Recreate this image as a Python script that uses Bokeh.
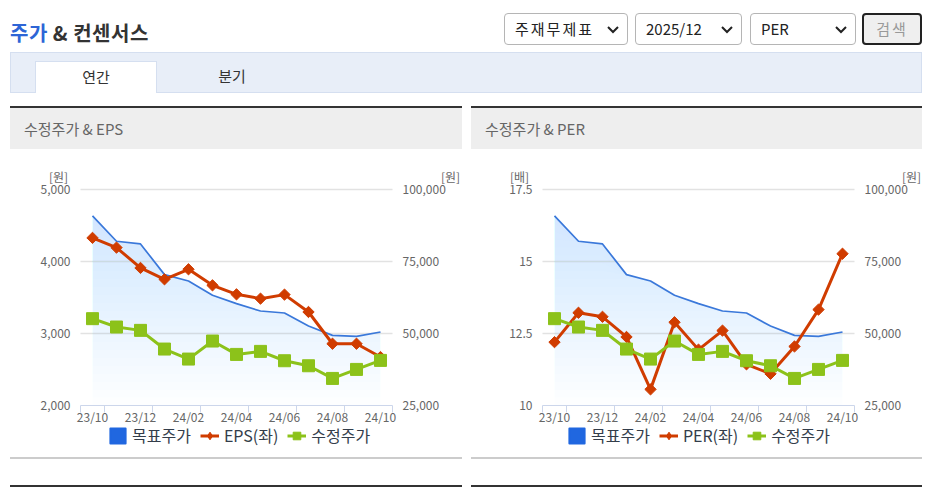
import numpy as np
from bokeh.plotting import figure
from bokeh.models import (Range1d, LinearAxis, FixedTicker, NumeralTickFormatter,
                          Legend, LegendItem, Label, Div)
from bokeh.layouts import column, row
from bokeh.embed import file_html
from bokeh.resources import INLINE

# ---------------- data ----------------
months = ["23/10", "23/11", "23/12", "24/01", "24/02", "24/03", "24/04",
          "24/05", "24/06", "24/07", "24/08", "24/09", "24/10"]
eps = [4328, 4193, 3911, 3753, 3892, 3669, 3544, 3484, 3540, 3299, 2858, 2858, 2673]
per = [12.20, 13.22, 13.08, 12.38, 10.56, 12.89, 11.94, 12.60, 11.43, 11.10, 12.05, 13.33, 15.27]
adj_price = [55150, 52250, 51090, 44600, 41120, 47380, 42740, 43790, 40540, 38800, 34400, 37530, 40660]
target_price = [90840, 82030, 81110, 70440, 68240, 63260, 60360, 57810, 57110, 52600, 49350, 49000, 50510]

eps_ticks = [2000, 3000, 4000, 5000]
per_ticks = [10, 12.5, 15, 17.5]
price_ticks = [25000, 50000, 75000, 100000]

FONT = "Noto Sans CJK KR"
BLUE = "#3a78da"
BLUE_SW = "#2067e0"
RED = "#d03c00"
GREEN = "#8cc21a"
AXIS_C = "#ccd6eb"
LABEL_C = "#666666"

FIG_H = 300.0          # figure height in px
PX_PER_CAT = 24.0      # horizontal pixels per category
PLOT_H = 216.0         # pixels between lowest and highest tick
TOP_PAD = 39.0         # px above the top tick inside the frame
BOT_PAD = FIG_H - PLOT_H - TOP_PAD   # px below the bottom tick (axis labels + legend)


def make_chart(width, pad_l, metric, metric_name, left_ticks, left_fmt,
               left_unit, unit_dx_l, unit_dx_r, legend_x):
    n = len(months)
    idx = list(range(n))
    lo, hi = -0.5, n - 0.5
    pad_r = width - pad_l - n * PX_PER_CAT
    x_range = Range1d(lo - pad_l / PX_PER_CAT, hi + pad_r / PX_PER_CAT)
    lspan = left_ticks[-1] - left_ticks[0]
    pspan = price_ticks[-1] - price_ticks[0]
    y_range = Range1d(left_ticks[0] - BOT_PAD * lspan / PLOT_H,
                      left_ticks[-1] + TOP_PAD * lspan / PLOT_H)
    p_range = Range1d(price_ticks[0] - BOT_PAD * pspan / PLOT_H,
                      price_ticks[-1] + TOP_PAD * pspan / PLOT_H)

    p = figure(width=width, height=int(FIG_H), x_range=x_range, y_range=y_range,
               output_backend="svg", toolbar_location=None, title=None,
               min_border=0, min_border_left=0, min_border_right=0,
               min_border_top=0, min_border_bottom=0,
               outline_line_color=None, background_fill_color="white",
               border_fill_color="white")
    p.extra_y_ranges = {"price": p_range}

    # x axis pinned at the bottom tick value
    xa = p.xaxis[0]
    xa.fixed_location = left_ticks[0]
    xa.bounds = (lo, hi)
    xa.ticker = FixedTicker(ticks=idx[::2],
                            minor_ticks=[lo] + [i - 0.5 for i in idx[1::2]] + [hi])
    xa.major_label_overrides = {i: months[i] for i in idx[::2]}
    xa.major_tick_line_color = None
    xa.major_tick_out = 0
    xa.major_tick_in = 0
    xa.minor_tick_out = 7
    xa.minor_tick_in = 0
    xa.minor_tick_line_color = AXIS_C
    xa.axis_line_color = AXIS_C
    xa.major_label_standoff = -5
    xa.major_label_text_font = FONT
    xa.major_label_text_font_size = "12px"
    xa.major_label_text_color = LABEL_C

    # left axis pinned at the left edge of the category band
    ya = p.yaxis[0]
    ya.fixed_location = lo
    ya.bounds = (left_ticks[0], left_ticks[-1])
    ya.ticker = FixedTicker(ticks=left_ticks)
    ya.formatter = NumeralTickFormatter(format=left_fmt)
    ya.axis_line_color = None
    ya.major_tick_line_color = None
    ya.minor_tick_line_color = None
    ya.major_tick_out = 0
    ya.major_label_standoff = 10
    ya.major_label_text_font = FONT
    ya.major_label_text_font_size = "12px"
    ya.major_label_text_color = LABEL_C

    # right axis pinned at the right edge of the category band
    ra = LinearAxis(y_range_name="price", ticker=FixedTicker(ticks=price_ticks),
                    formatter=NumeralTickFormatter(format="0,0"), fixed_location=hi,
                    bounds=(price_ticks[0], price_ticks[-1]))
    ra.axis_line_color = None
    ra.major_tick_line_color = None
    ra.minor_tick_line_color = None
    ra.major_tick_out = 0
    ra.major_label_standoff = 10
    ra.major_label_text_font = FONT
    ra.major_label_text_font_size = "12px"
    ra.major_label_text_color = LABEL_C
    p.add_layout(ra, "right")

    p.xgrid.visible = False
    p.ygrid.visible = False
    gl = left_ticks[1:]
    p.segment(x0=[lo] * len(gl), x1=[hi] * len(gl), y0=gl, y1=gl,
              line_color="#e2e2e2", line_width=1.5)

    # gradient-like area under target price
    tp = np.array(target_price, dtype=float)
    levels = np.linspace(price_ticks[0], tp.max(), 24, endpoint=False)
    for L in levels:
        p.varea(x=idx, y1=np.minimum(tp, L), y2=tp, fill_color="#c0dcf8",
                fill_alpha=0.027, y_range_name="price")
    p.line(idx, target_price, line_color=BLUE, line_width=1.7, y_range_name="price")

    red_line = p.line(idx, metric, line_color=RED, line_width=3)
    p.scatter(idx, metric, marker="square", angle=np.pi / 4, size=8,
              fill_color=RED, line_color=RED)
    green_line = p.line(idx, adj_price, line_color=GREEN, line_width=3, y_range_name="price")
    green_pts = p.scatter(idx, adj_price, marker="square", size=12,
                          fill_color=GREEN, line_color=GREEN, y_range_name="price")

    # legend-only renderers (a single NaN row: nothing is drawn in the plot)
    nan = [float("nan")]
    sw = p.quad(left=nan, right=nan, top=nan, bottom=nan, fill_color=BLUE_SW,
                line_color=BLUE_SW, line_join="round", line_width=2)
    red_dummy = p.scatter(x=nan, y=nan, marker="diamond", size=10, fill_color=RED, line_color=RED)
    green_dummy = p.scatter(x=nan, y=nan, marker="square", size=10, fill_color=GREEN,
                            line_color=GREEN)

    legend = Legend(items=[LegendItem(label="목표주가", renderers=[sw]),
                           LegendItem(label=metric_name, renderers=[red_line, red_dummy]),
                           LegendItem(label="수정주가", renderers=[green_line, green_dummy])],
                    orientation="horizontal", location=(legend_x, 3),
                    glyph_width=19, glyph_height=19, label_standoff=5, spacing=9,
                    padding=0, margin=0, border_line_color=None,
                    background_fill_alpha=0,
                    label_text_font=FONT, label_text_font_size="16px",
                    label_text_color="#333d4a")
    p.add_layout(legend)

    for txt, xx, dx in ((left_unit, lo, unit_dx_l), ("[원]", hi, unit_dx_r)):
        p.add_layout(Label(x=xx, y=left_ticks[-1], x_offset=dx, y_offset=13, text=txt,
                           text_align="center", text_baseline="middle",
                           text_font=FONT, text_font_size="12px", text_color=LABEL_C))
    return p


# left chart: figure page x 0..471, categories at page x 80..392
p1 = make_chart(471, 80, eps, "EPS(좌)", eps_ticks, "0,0", "[원]", -22, 58, 108)
# right chart: figure page x 471..922, categories at page x 542..854
p2 = make_chart(451, 71, per, "PER(좌)", per_ticks, "0.[0]", "[배]", -23, 57, 96)

chev = ('<svg width="12" height="8" style="position:absolute;right:8px;top:12px">'
        '<polyline points="1,1 6,6 11,1" fill="none" stroke="#222" stroke-width="2"/></svg>')


def sel(left, w, txt, ls):
    return (f'<div style="position:absolute;left:{left}px;top:13px;width:{w}px;height:32px;'
            f'box-sizing:border-box;border:1px solid #b5b5b5;border-radius:4px;background:#fff;'
            f'font-size:15px;line-height:30px;padding-left:10px;color:#222;'
            f'letter-spacing:{ls}px;">{txt}{chev}</div>')


top_html = f'''
<div style="position:relative;width:922px;height:150px;font-family:'{FONT}';overflow:hidden;">
  <div style="position:absolute;left:10px;top:22px;height:22px;line-height:22px;font-size:20px;
       font-weight:bold;color:#333;letter-spacing:0.5px;">
    <span style="color:#2d65d6;">주가</span> &amp; 컨센서스</div>
  {sel(504, 124, "주재무제표", 2)}
  {sel(635, 107, "2025/12", 0)}
  {sel(750, 106, "PER", 0)}
  <div style="position:absolute;left:862px;top:13px;width:60px;height:32px;box-sizing:border-box;
       border:2px solid #222;border-radius:4px;background:#efefef;text-align:center;
       font-size:15px;line-height:28px;color:#999;letter-spacing:2px;">검색</div>
  <div style="position:absolute;left:10px;top:52px;width:912px;height:41px;box-sizing:border-box;
       background:#e8eef8;border:1px solid #d5dff0;"></div>
  <div style="position:absolute;left:35px;top:61px;width:122px;height:32px;box-sizing:border-box;
       background:#fff;border:1px solid #d5dff0;border-bottom:none;text-align:center;
       font-size:15px;line-height:30px;color:#333;">연간</div>
  <div style="position:absolute;left:171px;top:61px;width:122px;height:32px;text-align:center;
       font-size:15px;line-height:30px;color:#333;">분기</div>
  <div style="position:absolute;left:10px;top:106px;width:452px;height:2px;background:#333;"></div>
  <div style="position:absolute;left:10px;top:108px;width:452px;height:41px;background:#eeeeee;
       font-size:15px;line-height:41px;color:#666;padding-left:14px;box-sizing:border-box;">수정주가 &amp; EPS</div>
  <div style="position:absolute;left:471px;top:106px;width:451px;height:2px;background:#333;"></div>
  <div style="position:absolute;left:471px;top:108px;width:451px;height:41px;background:#eeeeee;
       font-size:15px;line-height:41px;color:#666;padding-left:14px;box-sizing:border-box;">수정주가 &amp; PER</div>
</div>
'''

bottom_html = '''
<div style="position:relative;width:922px;height:38px;overflow:hidden;">
  <div style="position:absolute;left:10px;top:7px;width:452px;height:2px;background:#cccccc;"></div>
  <div style="position:absolute;left:471px;top:7px;width:451px;height:2px;background:#cccccc;"></div>
  <div style="position:absolute;left:10px;top:35px;width:452px;height:2px;background:#333;"></div>
  <div style="position:absolute;left:471px;top:35px;width:451px;height:2px;background:#333;"></div>
</div>
'''

div_top = Div(text=top_html, width=922, height=150, margin=0)
div_bottom = Div(text=bottom_html, width=922, height=38, margin=0)

layout = column(div_top, row(p1, p2, spacing=0), div_bottom, spacing=0)

html = file_html(layout, INLINE)
html = html.replace("<head>", "<head><style>html,body{overflow:hidden;}</style>", 1)
with open("out.html", "w") as f:
    f.write(html)
